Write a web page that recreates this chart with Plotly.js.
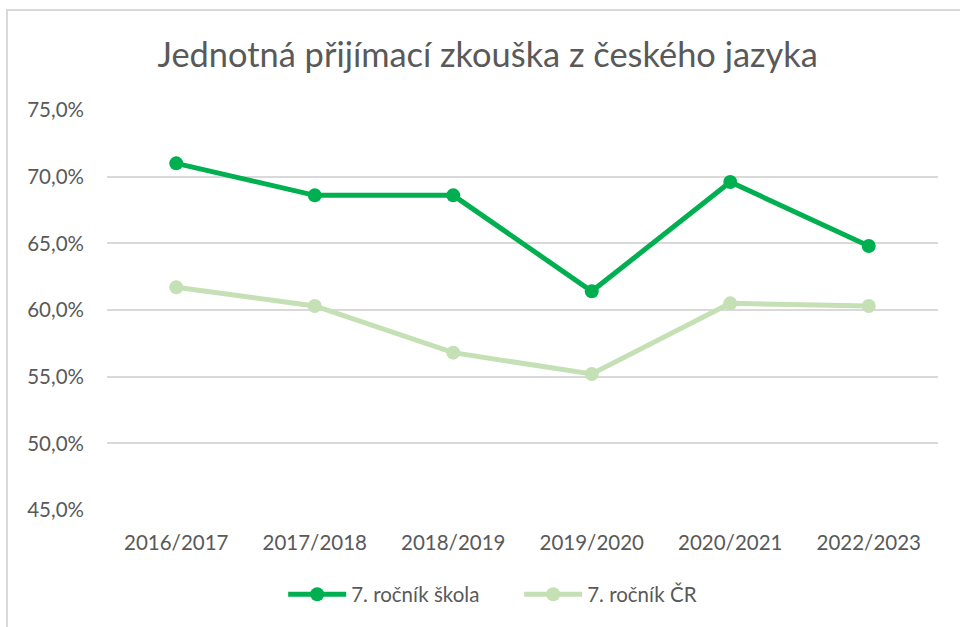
<!DOCTYPE html>
<html>
<head>
<meta charset="utf-8">
<script src="https://cdn.plot.ly/plotly-3.0.1.min.js"></script>
<style>
  html, body { margin: 0; padding: 0; background: #fff; }
  #wrap { position: relative; width: 960px; height: 627px; }
  #chart { width: 960px; height: 627px; }
  #frame { position: absolute; left: 6px; top: 9px; right: 0; bottom: 0;
           border-left: 2px solid #D9D9D9; border-top: 2px solid #D9D9D9; pointer-events: none; }
</style>
</head>
<body>
<div id="wrap">
  <div id="chart"></div>
  <div id="frame"></div>
</div>
<script>
const categories = ["2016/2017", "2017/2018", "2018/2019", "2019/2020", "2020/2021", "2022/2023"];
const skola = [0.710, 0.686, 0.686, 0.614, 0.696, 0.648];
const cr = [0.617, 0.603, 0.568, 0.552, 0.605, 0.603];
const seriesNames = ["7. ročník škola", "7. ročník ČR"];
const titleText = "Jednotná přijímací zkouška z českého jazyka";

const FONT = "Lato, 'Open Sans', sans-serif";

const traces = [
  {
    x: categories, y: skola, name: seriesNames[0], type: "scatter", mode: "lines+markers",
    line: { color: "#00B050", width: 5 },
    marker: { color: "#00B050", size: 14 }
  },
  {
    x: categories, y: cr, name: seriesNames[1], type: "scatter", mode: "lines+markers",
    line: { color: "#C5E0B4", width: 5 },
    marker: { color: "#C5E0B4", size: 14 }
  }
];

const layout = {
  width: 960, height: 627,
  margin: { l: 107, r: 22, t: 110, b: 115 },
  paper_bgcolor: "rgba(0,0,0,0)",
  plot_bgcolor: "#fff",
  separators: ", ",
  font: { family: FONT, color: "#595959", size: 20.5 },
  title: {
    text: titleText,
    font: { family: FONT, size: 34.4, color: "#595959" },
    x: 0.508, xanchor: "center", y: 0.912, yanchor: "middle"
  },
  xaxis: {
    type: "category",
    range: [-0.5, 5.5],
    showgrid: false, zeroline: false, showline: false,
    ticks: "", ticklen: 0,
    ticklabelstandoff: 18,
    tickfont: { family: FONT, size: 20.5, color: "#595959" },
    fixedrange: true
  },
  yaxis: {
    range: [0.45, 0.75],
    dtick: 0.05, tick0: 0.45,
    tickformat: ".1%",
    showgrid: true, gridcolor: "#D9D9D9", gridwidth: 2,
    zeroline: false, showline: false, ticks: "",
    ticklabelstandoff: 22,
    tickfont: { family: FONT, size: 20.5, color: "#595959" },
    fixedrange: true
  },
  showlegend: true,
  legend: {
    orientation: "h", x: 0.496, xanchor: "center", y: -0.211, yanchor: "middle",
    font: { family: FONT, size: 20.5, color: "#595959" },
    itemwidth: 58, entrywidth: 163, entrywidthmode: "pixels", tracegroupgap: 0
  }
};

Plotly.newPlot("chart", traces, layout, { displayModeBar: false, staticPlot: true });
</script>
</body>
</html>
